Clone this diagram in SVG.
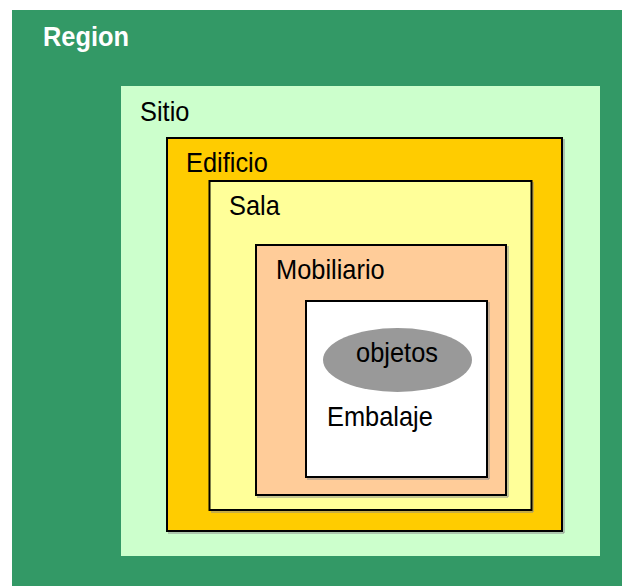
<svg xmlns="http://www.w3.org/2000/svg" width="622" height="586" viewBox="0 0 622 586">
<style>
.box{stroke:#000;stroke-width:2}
.sh{fill:none;stroke:#8c8c8c;stroke-width:1}
.t{font-family:"Liberation Sans",Arial,sans-serif;font-size:25.4px;fill:#000}
</style>
<rect width="622" height="586" fill="#fff"/>
<g id="region">
<rect x="12" y="10" width="610" height="576" fill="#339966"/>
<text class="t" transform="translate(43 46) scale(1 1.08)" style="font-weight:bold;fill:#fff">Region</text>
</g>
<g id="sitio">
<rect x="121" y="86" width="479" height="470" fill="#CCFFCC"/>
<text class="t" transform="translate(140 121) scale(1 1.08)">Sitio</text>
</g>
<g id="edificio">
<polyline class="sh" points="564,139 564,533 168,533"/>
<rect class="box" x="167" y="138" width="395" height="393" fill="#FFCC00"/>
<text class="t" transform="translate(186 172) scale(1 1.08)">Edificio</text>
</g>
<g id="sala">
<polyline class="sh" points="533,182 533,512 211,512"/>
<rect class="box" x="209.5" y="181" width="322" height="329" fill="#FFFF99"/>
<text class="t" transform="translate(229 215) scale(1 1.08)">Sala</text>
</g>
<g id="mobiliario">
<polyline class="sh" points="508,246 508,497 257,497"/>
<rect class="box" x="256" y="245" width="250" height="250" fill="#FFCC99"/>
<text class="t" transform="translate(276 279) scale(1 1.08)">Mobiliario</text>
</g>
<g id="embalaje">
<polyline class="sh" points="489,302 489,479 307,479"/>
<rect class="box" x="306" y="301" width="181" height="176" fill="#fff"/>
<text class="t" transform="translate(327 426) scale(1 1.08)">Embalaje</text>
</g>
<g id="objetos">
<ellipse cx="397.5" cy="360" rx="74.5" ry="32" fill="#999999"/>
<text class="t" transform="translate(397 362) scale(1 1.08)" text-anchor="middle">objetos</text>
</g>
<g id="connectors"/>
</svg>
